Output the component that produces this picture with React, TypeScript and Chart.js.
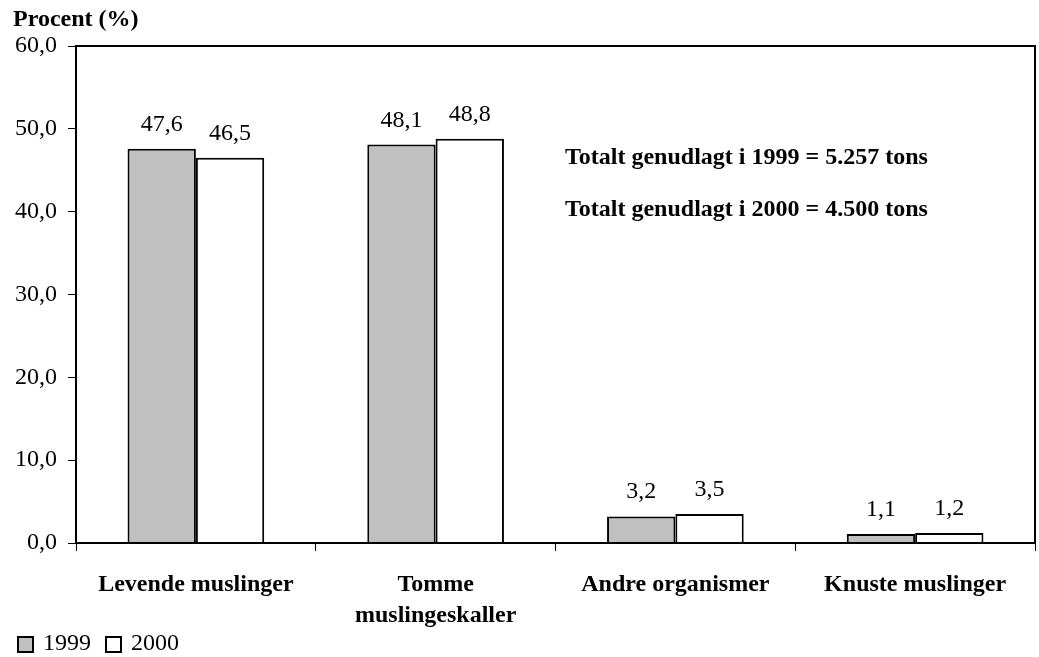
import React, { useEffect, useRef } from "react";
import { Chart, registerables } from "chart.js";

Chart.register(...registerables);

const categories: (string | string[])[] = [
  "Levende muslinger",
  ["Tomme", "muslingeskaller"],
  "Andre organismer",
  "Knuste muslinger",
];
const seriesLabels = ["1999", "2000"];
const values1999 = [47.6, 48.1, 3.2, 1.1];
const values2000 = [46.5, 48.8, 3.5, 1.2];
const seriesColors = ["#c0c0c0", "#ffffff"];
const yMin = 0;
const yMax = 60;
const yStep = 10;
const yTitle = "Procent (%)";
const notes = [
  "Totalt genudlagt i 1999 = 5.257 tons",
  "Totalt genudlagt i 2000 = 4.500 tons",
];

const FONT = "'Liberation Serif', 'Times New Roman', serif";
const fmt = (v: number) => v.toFixed(1).replace(".", ",");

const overlayPlugin = {
  id: "overlay",
  afterDraw(chart: any) {
    const { ctx, chartArea } = chart;
    ctx.save();
    // frame around plot area
    ctx.strokeStyle = "#000";
    ctx.lineWidth = 2;
    ctx.strokeRect(chartArea.left, chartArea.top, chartArea.right - chartArea.left, chartArea.bottom - chartArea.top);

    // value labels
    ctx.fillStyle = "#000";
    ctx.font = `24px ${FONT}`;
    ctx.textAlign = "center";
    ctx.textBaseline = "alphabetic";
    chart.data.datasets.forEach((ds: any, di: number) => {
      const meta = chart.getDatasetMeta(di);
      meta.data.forEach((el: any, i: number) => {
        ctx.fillText(fmt(ds.data[i]), el.x, el.y - 18);
      });
    });

    // y title
    ctx.font = `bold 24px ${FONT}`;
    ctx.textAlign = "left";
    ctx.fillText(yTitle, 13, 26);

    // notes
    notes.forEach((t, i) => {
      ctx.fillText(t, chartArea.left + 489, chartArea.top + 118 + i * 52);
    });

    // legend
    ctx.font = `24px ${FONT}`;
    ctx.textBaseline = "middle";
    let x = 18;
    const cy = 644.5;
    chart.data.datasets.forEach((ds: any) => {
      ctx.fillStyle = ds.backgroundColor;
      ctx.fillRect(x, cy - 7.5, 15, 15);
      ctx.strokeStyle = "#000";
      ctx.lineWidth = 2;
      ctx.strokeRect(x, cy - 7.5, 15, 15);
      ctx.fillStyle = "#000";
      ctx.fillText(ds.label, x + 25, cy - 1);
      x += 25 + ctx.measureText(ds.label).width + 15;
    });
    ctx.restore();
  },
};

export default function App() {
  const ref = useRef<HTMLCanvasElement>(null);
  useEffect(() => {
    document.body.style.margin = "0";
    const chart = new Chart(ref.current!, {
      type: "bar",
      data: {
        labels: categories,
        datasets: seriesLabels.map((lab, i) => ({
          label: lab,
          data: i === 0 ? values1999 : values2000,
          backgroundColor: seriesColors[i],
          borderColor: "#000",
          borderWidth: 2,
          barPercentage: 1,
          categoryPercentage: 0.57,
        })),
      },
      options: {
        responsive: false,
        animation: false,
        layout: { padding: { left: 3, right: 4, top: 46, bottom: 0 } },
        plugins: {
          tooltip: { enabled: false },
          title: { display: false },
          legend: { display: false },
        },
        scales: {
          x: {
            grid: {
              drawOnChartArea: false,
              drawTicks: true,
              tickLength: 8,
              color: "#000",
              lineWidth: 1,
            },
            border: { display: true, color: "#000", width: 2 },
            ticks: {
              color: "#000",
              font: { family: FONT, size: 24, weight: "bold", lineHeight: 1.3 },
              padding: 18,
              maxRotation: 0,
              autoSkip: false,
            },
            afterFit(scale: any) {
              scale.height = 114;
            },
          },
          y: {
            min: yMin,
            max: yMax,
            grid: {
              drawOnChartArea: false,
              drawTicks: true,
              tickLength: 8,
              color: "#000",
              lineWidth: 1,
            },
            border: { display: true, color: "#000", width: 2 },
            ticks: {
              stepSize: yStep,
              color: "#000",
              font: { family: FONT, size: 24 },
              padding: 11,
              callback: (v: any) => fmt(Number(v)),
            },
            afterFit(scale: any) {
              scale.width = 73;
            },
          },
        },
      },
      plugins: [overlayPlugin],
    });
    return () => chart.destroy();
  }, []);
  return (
    <div style={{ width: 1039, height: 657 }}>
      <canvas ref={ref} width={1039} height={657} />
    </div>
  );
}
